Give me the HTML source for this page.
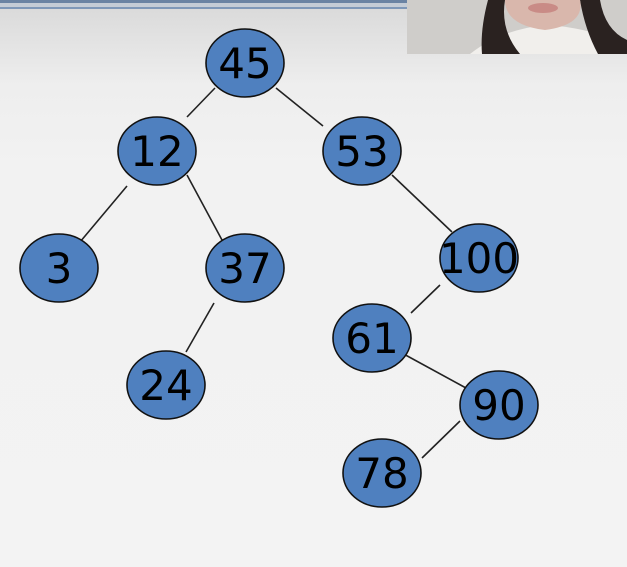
<!DOCTYPE html>
<html><head><meta charset="utf-8"><style>
html,body{margin:0;padding:0;}
body{width:627px;height:567px;overflow:hidden;background:#f2f2f2;position:relative;font-family:"DejaVu Sans","Liberation Sans",sans-serif;}
</style></head><body>
<svg width="627" height="567" viewBox="0 0 627 567" style="position:absolute;left:0;top:0">
<defs>
<linearGradient id="bg" x1="0" y1="0" x2="0" y2="1">
<stop offset="0" stop-color="#d8d8d8"/><stop offset="0.15" stop-color="#eeeeee"/><stop offset="0.3" stop-color="#f2f2f2"/><stop offset="1" stop-color="#f3f3f3"/>
</linearGradient>
</defs>
<rect width="627" height="567" fill="url(#bg)"/>
<rect x="0" y="0" width="627" height="3" fill="#6a83a3"/>
<rect x="0" y="3" width="627" height="4" fill="#c4ccd6"/>
<rect x="0" y="7" width="627" height="2" fill="#7f98b8"/>
<g>
<rect x="407" y="0" width="220" height="54" fill="#cfcdca"/>
<path d="M470 54 Q500 30 545 25 Q600 28 627 50 L627 54 Z" fill="#f1efec"/>
<path d="M488 0 L505 0 Q500 30 520 54 L482 54 Q480 30 488 0 Z" fill="#2a2220"/>
<path d="M580 0 L600 0 Q605 30 627 40 L627 54 L598 54 Q585 30 580 0 Z" fill="#2a2220"/>
<path d="M505 0 L580 0 Q585 25 545 30 Q505 25 505 0 Z" fill="#d9b7ac"/>
<ellipse cx="543" cy="8" rx="15" ry="5" fill="#c98b86"/>
</g>
<g stroke="#222" stroke-width="1.6">
<line x1="215" y1="88" x2="187" y2="117"/>
<line x1="276" y1="88" x2="323" y2="126"/>
<line x1="127" y1="186" x2="80" y2="242"/>
<line x1="187" y1="175" x2="222" y2="240"/>
<line x1="392" y1="175" x2="452" y2="232"/>
<line x1="214" y1="303" x2="186" y2="352"/>
<line x1="440" y1="285" x2="411" y2="313"/>
<line x1="400" y1="352" x2="466" y2="388"/>
<line x1="460" y1="421" x2="422" y2="458"/>
</g>
<g fill="#4f80bf" stroke="#111" stroke-width="1.6">
<ellipse cx="245" cy="63" rx="39" ry="34"/>
<ellipse cx="157" cy="151" rx="39" ry="34"/>
<ellipse cx="362" cy="151" rx="39" ry="34"/>
<ellipse cx="59" cy="268" rx="39" ry="34"/>
<ellipse cx="245" cy="268" rx="39" ry="34"/>
<ellipse cx="479" cy="258" rx="39" ry="34"/>
<ellipse cx="372" cy="338" rx="39" ry="34"/>
<ellipse cx="166" cy="385" rx="39" ry="34"/>
<ellipse cx="499" cy="405" rx="39" ry="34"/>
<ellipse cx="382" cy="473" rx="39" ry="34"/>
</g>
<g fill="#000" font-size="42" text-anchor="middle" font-family="DejaVu Sans, Liberation Sans, sans-serif">
<text x="245" y="78">45</text>
<text x="157" y="166">12</text>
<text x="362" y="166">53</text>
<text x="59" y="283">3</text>
<text x="245" y="283">37</text>
<text x="479" y="273" textLength="80" lengthAdjust="spacingAndGlyphs">100</text>
<text x="372" y="353">61</text>
<text x="166" y="400">24</text>
<text x="499" y="420">90</text>
<text x="382" y="488">78</text>
</g>
</svg>
</body></html>
